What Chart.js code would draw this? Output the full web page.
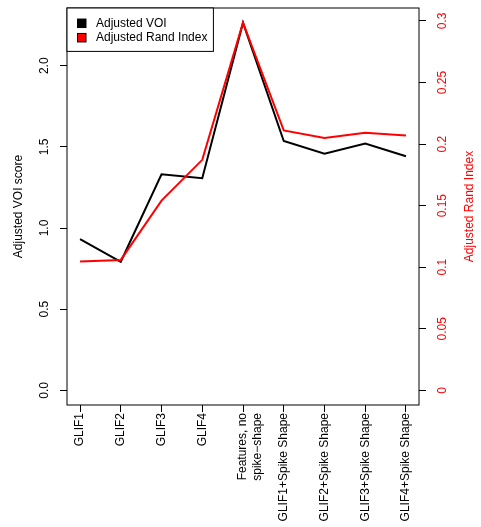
<!DOCTYPE html>
<html>
<head>
<meta charset="utf-8">
<script src="https://cdn.jsdelivr.net/npm/chart.js@4/dist/chart.umd.min.js"></script>
<style>
  html, body { margin: 0; padding: 0; background: #ffffff; }
  canvas { display: block; }
</style>
</head>
<body>
<canvas id="c" width="481" height="527"></canvas>
<script>
// Model variants along the x axis
const categories = [
  'GLIF1', 'GLIF2', 'GLIF3', 'GLIF4',
  ['Features, no', 'spike\u2212shape'],
  'GLIF1+Spike Shape', 'GLIF2+Spike Shape', 'GLIF3+Spike Shape', 'GLIF4+Spike Shape'
];
// Left axis series
const voiScores = [0.932, 0.792, 1.331, 1.307, 2.265, 1.536, 1.458, 1.520, 1.442];
// Right axis series
const randIndex = [0.1046, 0.1059, 0.1541, 0.1872, 0.2986, 0.2111, 0.2049, 0.2092, 0.2070];

const voiTicks = [0, 0.5, 1, 1.5, 2];
const randTicks = [0, 0.05, 0.1, 0.15, 0.2, 0.25, 0.3];

const seriesNames = ['Adjusted VOI', 'Adjusted Rand Index'];
const leftTitle = 'Adjusted VOI score';
const rightTitle = 'Adjusted Rand Index';

const FONT = '"Liberation Sans", Arial, Helvetica, sans-serif';
Chart.defaults.font.family = FONT;
Chart.defaults.font.size = 12;
Chart.defaults.color = '#000';

// 4% padding on each side of the data range
function paddedRange(lo, hi) {
  const d = (hi - lo) * 0.04;
  return [lo - d, hi + d];
}
const xRange = paddedRange(1, categories.length);
const yRange = paddedRange(0, Math.max(...voiScores));
const y2Range = paddedRange(0, Math.max(...randIndex));

const toPoints = vals => vals.map((v, i) => ({ x: i + 1, y: v }));

const tickGrid = {
  display: true,
  drawOnChartArea: false,
  drawTicks: true,
  tickLength: 7,
  tickColor: '#000',
  tickWidth: 1
};

// Fixed scale sizes so the plot box keeps the same place
function fixVertical(width) {
  return s => { s.width = width; s.paddingTop = 0; s.paddingBottom = 0; };
}

// Plot frame, legend box and the right-hand axis title
const framePlugin = {
  id: 'frameAndLegend',
  afterDraw(chart) {
    const { ctx, chartArea: a } = chart;
    ctx.save();
    ctx.strokeStyle = '#000';
    ctx.lineWidth = 1;
    ctx.strokeRect(a.left, a.top, a.right - a.left, a.bottom - a.top);

    ctx.font = '12px ' + FONT;
    const textX = a.left + 29;
    const firstY = a.top + 15.3;
    const rowH = 14.4;
    const maxW = Math.max(...seriesNames.map(n => ctx.measureText(n).width));
    const boxW = textX + maxW + 6 - a.left;
    const boxH = 43.4;
    ctx.fillStyle = '#fff';
    ctx.fillRect(a.left, a.top, boxW, boxH);
    ctx.strokeRect(a.left, a.top, boxW, boxH);
    ctx.textAlign = 'left';
    ctx.textBaseline = 'middle';
    chart.data.datasets.forEach((ds, i) => {
      const y = firstY + i * rowH;
      ctx.fillStyle = ds.borderColor;
      ctx.fillRect(a.left + 10.5, y - 4.25, 8.5, 8.5);
      ctx.strokeStyle = '#000';
      ctx.strokeRect(a.left + 10.5, y - 4.25, 8.5, 8.5);
      ctx.fillStyle = '#000';
      ctx.fillText(ds.label, textX, y);
    });

    ctx.translate(470, (a.top + a.bottom) / 2);
    ctx.rotate(-Math.PI / 2);
    ctx.textAlign = 'center';
    ctx.textBaseline = 'middle';
    ctx.fillStyle = '#ff0000';
    ctx.fillText(rightTitle, 0, 0);
    ctx.restore();
  }
};

new Chart(document.getElementById('c'), {
  type: 'line',
  data: {
    datasets: [
      {
        label: seriesNames[0],
        data: toPoints(voiScores),
        borderColor: '#000000',
        backgroundColor: '#000000',
        borderWidth: 2,
        pointRadius: 0,
        tension: 0,
        yAxisID: 'y',
        order: 1
      },
      {
        label: seriesNames[1],
        data: toPoints(randIndex),
        borderColor: '#ff0000',
        backgroundColor: '#ff0000',
        borderWidth: 2,
        pointRadius: 0,
        tension: 0,
        yAxisID: 'y2',
        order: 0
      }
    ]
  },
  options: {
    responsive: false,
    animation: false,
    devicePixelRatio: 1,
    layout: { padding: { top: 8, left: 0, right: 0, bottom: 0 } },
    plugins: {
      legend: { display: false },
      tooltip: { enabled: false }
    },
    scales: {
      x: {
        type: 'linear',
        min: xRange[0],
        max: xRange[1],
        afterBuildTicks: s => { s.ticks = categories.map((_, i) => ({ value: i + 1 })); },
        afterFit: s => { s.height = 122; s.paddingLeft = 0; s.paddingRight = 0; },
        grid: tickGrid,
        border: { display: false },
        ticks: {
          autoSkip: false,
          minRotation: 90,
          maxRotation: 90,
          padding: 1,
          color: '#000',
          font: { size: 12, lineHeight: 1.2 },
          callback: v => categories[v - 1]
        }
      },
      y: {
        position: 'left',
        min: yRange[0],
        max: yRange[1],
        afterBuildTicks: s => { s.ticks = voiTicks.map(v => ({ value: v })); },
        afterFit: fixVertical(67),
        grid: tickGrid,
        border: { display: false },
        title: {
          display: true,
          text: leftTitle,
          color: '#000',
          font: { size: 12, lineHeight: 1.2 },
          padding: { top: 11, bottom: 0 }
        },
        ticks: {
          autoSkip: false,
          minRotation: 90,
          maxRotation: 90,
          crossAlign: 'center',
          padding: 7,
          color: '#000',
          callback: v => v.toFixed(1)
        }
      },
      y2: {
        position: 'right',
        min: y2Range[0],
        max: y2Range[1],
        afterBuildTicks: s => { s.ticks = randTicks.map(v => ({ value: v })); },
        afterFit: fixVertical(62),
        grid: tickGrid,
        border: { display: false },
        ticks: {
          autoSkip: false,
          minRotation: 90,
          maxRotation: 90,
          crossAlign: 'center',
          padding: 5,
          color: '#ff0000',
          callback: v => String(Number(v.toFixed(2)))
        }
      }
    }
  },
  plugins: [framePlugin]
});
</script>
</body>
</html>
